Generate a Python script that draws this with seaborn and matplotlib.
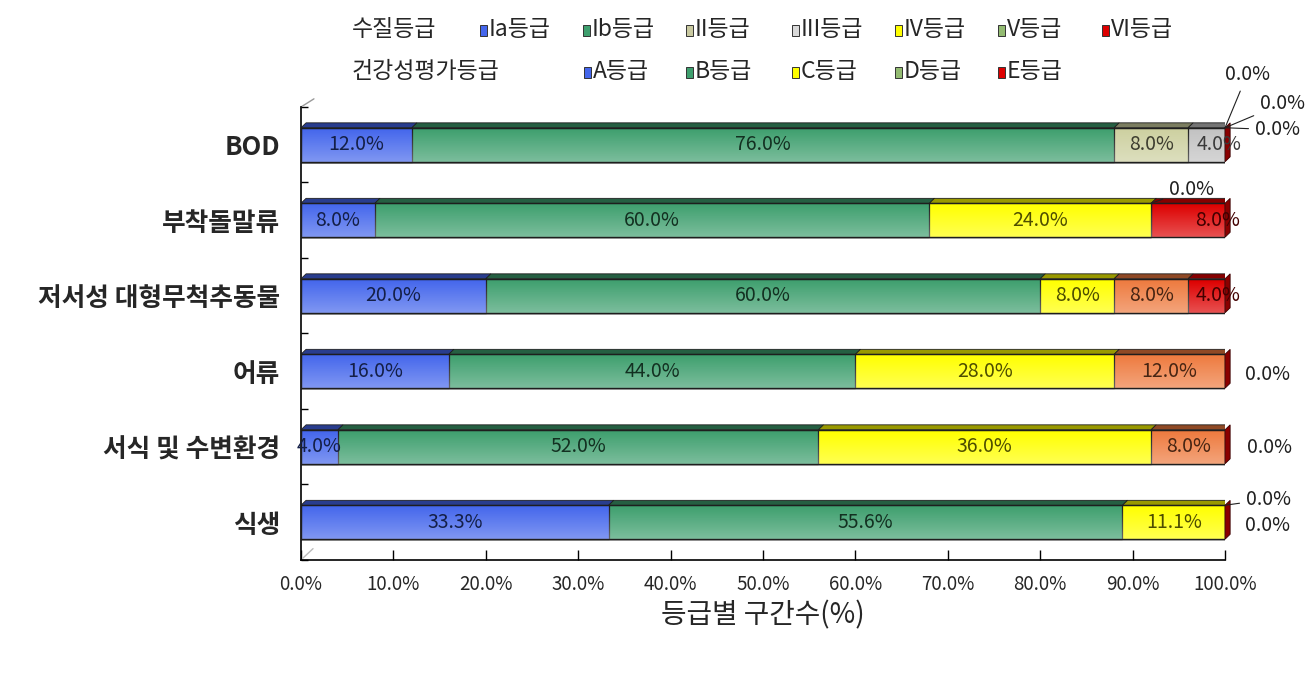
import matplotlib
matplotlib.use('Agg')
import matplotlib.pyplot as plt
import matplotlib.colors as mcolors
from matplotlib.patches import Rectangle, Polygon
import numpy as np
import pandas as pd
import seaborn as sns

# Data (percent of sections per grade)
categories = ['BOD', '부착돌말류', '저서성 대형무척추동물', '어류', '서식 및 수변환경', '식생']

bod_grades = ['Ia등급', 'Ib등급', 'II등급', 'III등급', 'IV등급', 'V등급', 'VI등급']
bod_values = [12.0, 76.0, 8.0, 4.0, 0.0, 0.0, 0.0]

health_grades = ['A등급', 'B등급', 'C등급', 'D등급', 'E등급']
diatom_values = [8.0, 60.0, 24.0, 0.0, 8.0]
benthic_values = [20.0, 60.0, 8.0, 8.0, 4.0]
fish_values = [16.0, 44.0, 28.0, 12.0, 0.0]
habitat_values = [4.0, 52.0, 36.0, 8.0, 0.0]
vegetation_values = [33.3, 55.6, 11.1, 0.0, 0.0]

x_ticks = [0, 10, 20, 30, 40, 50, 60, 70, 80, 90, 100]

# colours
BLUE, GREEN, YELLOW, ORANGE, RED = '#4466EC', '#3E9F6E', '#FFFF00', '#EE7A3E', '#DD0000'
bod_colors = [BLUE, GREEN, '#CDD0A0', '#C2C2C2', YELLOW, '#8BB46A', RED]
health_colors = [BLUE, GREEN, YELLOW, ORANGE, RED]
legend1_colors = [BLUE, GREEN, '#C9C9A0', '#D9D9D9', YELLOW, '#93BB72', RED]
legend2_colors = [BLUE, GREEN, YELLOW, '#93BB72', RED]

# long table: one row per segment
rows = []
series = [bod_values, diatom_values, benthic_values, fish_values, habitat_values, vegetation_values]
for cat, vals in zip(categories, series):
    cols = bod_colors if cat == 'BOD' else health_colors
    cum = 0.0
    for k, v in enumerate(vals):
        cum += v
        rows.append({'category': cat, 'slot': k, 'value': v, 'right': cum,
                     'left': cum - v, 'color': cols[k]})
df = pd.DataFrame(rows)
df.loc[df.groupby('category')['slot'].transform('max') == df['slot'], 'right'] = 100.0

sns.set_style('white')
plt.rcParams['font.family'] = ['Noto Sans CJK KR', 'DejaVu Sans']

fig = plt.figure(figsize=(13.15, 6.75), dpi=100)
ax = fig.add_axes([0.2289, 0.1704, 0.7027, 0.6711])

BAR_H = 0.45

# stacked bars drawn as overlapping cumulative bars, last slot first
for k in sorted(df['slot'].unique(), reverse=True):
    sub = df[df['slot'] == k]
    pal = dict(zip(sub['category'], sub['color']))
    sns.barplot(data=sub, x='right', y='category', hue='category', order=categories,
                hue_order=list(sub['category']), palette=pal, dodge=False, legend=False,
                orient='h', width=BAR_H, saturation=1, errorbar=None,
                edgecolor='#1e1e1e', linewidth=0.9, ax=ax)


def shade(c, f):
    r, g, b = mcolors.to_rgb(c)
    return (r * f, g * f, b * f)


pos = {c: i for i, c in enumerate(categories)}

# light gradient over each bar (lighter towards the bottom)
grad = np.zeros((32, 1, 4))
grad[..., :3] = 1.0
grad[:, 0, 3] = np.linspace(0.0, 0.32, 32)
for cat in categories:
    c = pos[cat]
    ax.imshow(grad, extent=(0, 100, c + BAR_H / 2, c - BAR_H / 2), aspect='auto',
              interpolation='bilinear', zorder=2.5)
ax.set_aspect('auto')

# pseudo 3D faces
DX, DY = 0.55, 0.065
for _, r in df.iterrows():
    if r['value'] <= 0:
        continue
    top = pos[r['category']] - BAR_H / 2
    ax.add_patch(Polygon([(r['left'], top), (r['right'], top), (r['right'] + DX, top - DY),
                          (r['left'] + DX, top - DY)], closed=True, zorder=3,
                         facecolor=shade(r['color'], 0.6), edgecolor='#1e1e1e', linewidth=0.6))
for cat in categories:
    c = pos[cat]
    ax.add_patch(Polygon([(100, c - BAR_H / 2), (100 + DX, c - BAR_H / 2 - DY),
                          (100 + DX, c + BAR_H / 2 - DY), (100, c + BAR_H / 2)], closed=True,
                         facecolor='#8A0000', edgecolor='#3a0000', linewidth=0.6, clip_on=False,
                         zorder=3))
    ax.add_patch(Rectangle((0, c - BAR_H / 2), 100, BAR_H, facecolor='none',
                           edgecolor='#1e1e1e', linewidth=0.9, zorder=3))

# segment value labels
label_shift = {('BOD', 3): 1.4, ('부착돌말류', 4): 3.2, ('저서성 대형무척추동물', 4): 1.2}
for _, r in df.iterrows():
    if r['value'] <= 0:
        continue
    x = r['left'] + r['value'] / 2 + label_shift.get((r['category'], r['slot']), 0)
    ax.text(x, pos[r['category']], f"{r['value']:.1f}%", ha='center', va='center',
            fontsize=14, color=shade(r['color'], 0.3), clip_on=False, zorder=4)

# zero value labels (category, slot, text offset in pixels, leader line)
zero_labels = [('BOD', 4, (22, 53), True), ('BOD', 5, (57, 24), True), ('BOD', 6, (52, -2), True),
               ('부착돌말류', 3, (40, 14), True), ('어류', 4, (33, -3), False),
               ('서식 및 수변환경', 4, (35, -1), False), ('식생', 3, (43, 6), True),
               ('식생', 4, (33, -3), False)]
for cat, k, off, lead in zero_labels:
    r = df[(df['category'] == cat) & (df['slot'] == k)].iloc[0]
    if lead:
        y = pos[cat] - BAR_H / 2
        ax.annotate('0.0%', xy=(r['left'], y), xytext=off, textcoords='offset pixels',
                    ha='center', va='center', fontsize=14, color='#202020', zorder=4,
                    arrowprops=dict(arrowstyle='-', color='#202020', lw=0.8, shrinkA=2, shrinkB=0),
                    annotation_clip=False)
    else:
        ax.annotate('0.0%', xy=(100, pos[cat]), xytext=(off[0] + 9, off[1]), textcoords='offset pixels',
                    ha='center', va='center', fontsize=14, color='#202020', annotation_clip=False,
                    zorder=4)

# axes styling
ax.set_xlim(0, 100)
ax.set_ylim(5.5, -0.5)
ax.set_xticks(x_ticks)
ax.set_xticklabels([f'{v:.1f}%' for v in x_ticks], fontsize=13.5)
ax.set_yticks(range(len(categories)))
ax.set_yticklabels(categories, fontsize=18.5, fontweight='bold')
ax.set_yticks([i - 0.5 for i in range(len(categories) + 1)], minor=True)
ax.tick_params(axis='y', which='major', length=0, pad=15)
ax.tick_params(axis='y', which='minor', direction='in', length=5, width=1, color='black', left=True)
ax.tick_params(axis='x', direction='in', length=7, width=1, color='black', pad=10, bottom=True)
ax.set_xlabel('등급별 구간수(%)', fontsize=20, labelpad=4)
ax.set_ylabel('')
for s in ['top', 'right']:
    ax.spines[s].set_visible(False)
for s in ['left', 'bottom']:
    ax.spines[s].set_color('black')
    ax.spines[s].set_linewidth(1.2)
ax.grid(False)

# 3D wall corners
ax.plot([0, 0.014], [1, 1.018], transform=ax.transAxes, color='#999999', lw=1, clip_on=False)
ax.plot([0.002, 0.013], [0.004, 0.025], transform=ax.transAxes, color='#bbbbbb', lw=1, clip_on=False)

# legend built by hand (two rows)
W, H = 1315.0, 675.0
row1_y, row2_y = 1 - 30 / H, 1 - 72 / H
fig.text(352 / W, row1_y, '수질등급', fontsize=16.5, va='center', ha='left')
fig.text(352 / W, row2_y, '건강성평가등급', fontsize=16.5, va='center', ha='left')
row1_x = [480, 583, 686, 792, 895, 998, 1102]
row2_x = [584, 686, 792, 895, 998]
for xs, names, cols, yy in [(row1_x, bod_grades, legend1_colors, row1_y),
                            (row2_x, health_grades, legend2_colors, row2_y)]:
    for x, name, col in zip(xs, names, cols):
        fig.patches.append(Rectangle((x / W, yy - 5.5 / H), 7 / W, 11 / H, transform=fig.transFigure,
                                     facecolor=col, edgecolor='#333333', linewidth=0.7))
        fig.text((x + 9) / W, yy, name, fontsize=16.5, va='center', ha='left')

fig.savefig('out.png', dpi=100)
